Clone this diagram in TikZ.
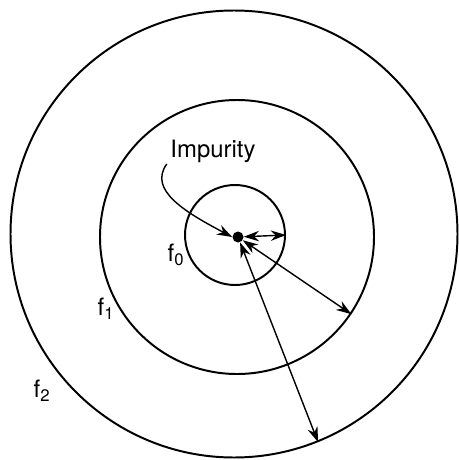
\documentclass[tikz,border=0pt]{standalone}
\usepackage{fontspec}
\setmainfont{TeX Gyre Heros}
\usetikzlibrary{arrows.meta}

\tikzset{
	ring/.style={draw, circle, inner sep=0pt, line width=1.4pt},
	span/.style={line width=1pt, {Stealth[length=3.8mm, width=2.6mm]}-{Stealth[length=3.8mm, width=2.6mm]}},
	flab/.style={font=\fontsize{17}{19}\selectfont, inner sep=1pt}
}

\begin{document}
\begin{tikzpicture}[x=0.025cm, y=-0.025cm]
	\useasboundingbox (0,0) rectangle (459,460);
	\node[ring, minimum size=100*0.025cm] (c0) at (235,235) {};
	\node[ring, minimum size=274*0.025cm] (c1) at (237,237) {};
	\node[ring, minimum size=447*0.025cm] (c2) at (234,234) {};
	\node[fill, circle, inner sep=0pt, minimum size=11*0.025cm] (imp) at (238,237) {};
	\draw[span] (imp) -- (c0.0);
	\draw[span] (imp) -- (c1.-34.6);
	\draw[span] (imp) -- (c2.-68);
	\node[flab] (name) at (213,151) {Impurity};
	\draw[line width=1pt, -{Stealth[length=3.8mm, width=2.6mm]}] (name.south west) ++(-2,0) coordinate (bend) .. controls (148,190) and (185,212) .. (imp.west);
	\node[flab] (f0) at (176,255) {f\textsubscript{0}};
	\node[flab] (f1) at (106,309) {f\textsubscript{1}};
	\node[flab] (f2) at (42,391) {f\textsubscript{2}};
\end{tikzpicture}
\end{document}
